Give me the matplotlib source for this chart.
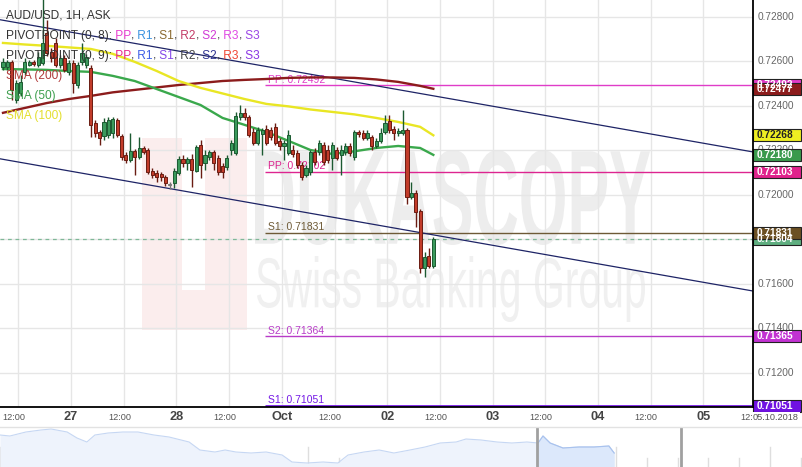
import matplotlib
matplotlib.use('Agg')
import matplotlib.pyplot as plt
from matplotlib.patches import Rectangle, PathPatch
from matplotlib.transforms import Affine2D, blended_transform_factory
from matplotlib.textpath import TextPath
from matplotlib.font_manager import FontProperties

FONT = 'Liberation Sans'
plt.rcParams['font.family'] = [FONT, 'DejaVu Sans']

# AUD/USD 1H candles
opens = [0.72575, 0.72575, 0.72598, 0.72427, 0.72458, 0.72553, 0.72584, 0.72598, 0.72584, 0.72593,
         0.72728, 0.72643, 0.72683, 0.72584, 0.72616, 0.72553, 0.72593, 0.72494, 0.72598, 0.72584,
         0.72571, 0.72324, 0.72283, 0.72265, 0.72270, 0.72279, 0.72337, 0.72265, 0.72180, 0.72157,
         0.72198, 0.72171, 0.72211, 0.72202, 0.72108, 0.72099, 0.72094, 0.72081, 0.72045, 0.72054,
         0.72099, 0.72162, 0.72144, 0.72162, 0.72108, 0.72225, 0.72144, 0.72171, 0.72193, 0.72166,
         0.72130, 0.72126, 0.72202, 0.72189, 0.72351, 0.72369, 0.72351, 0.72283, 0.72234, 0.72274,
         0.72297, 0.72292, 0.72306, 0.72243, 0.72220, 0.72189, 0.72202, 0.72189, 0.72135, 0.72090,
         0.72103, 0.72193, 0.72193, 0.72225, 0.72202, 0.72166, 0.72202, 0.72180, 0.72193, 0.72220,
         0.72171, 0.72283, 0.72279, 0.72256, 0.72261, 0.72220, 0.72243, 0.72283, 0.72333, 0.72297,
         0.72279, 0.72279, 0.72292, 0.71991, 0.72009, 0.71928, 0.71672, 0.71726, 0.71681]
highs = [0.72616, 0.72607, 0.72607, 0.72517, 0.72539, 0.72616, 0.72607, 0.72607, 0.72643, 0.72880,
         0.72787, 0.72661, 0.72706, 0.72629, 0.72629, 0.72607, 0.72607, 0.72598, 0.72683, 0.72634,
         0.72584, 0.72337, 0.72292, 0.72346, 0.72351, 0.72351, 0.72346, 0.72274, 0.72193, 0.72279,
         0.72207, 0.72261, 0.72220, 0.72211, 0.72121, 0.72112, 0.72103, 0.72090, 0.72058, 0.72121,
         0.72175, 0.72180, 0.72171, 0.72184, 0.72225, 0.72247, 0.72202, 0.72202, 0.72202, 0.72180,
         0.72144, 0.72180, 0.72247, 0.72373, 0.72404, 0.72391, 0.72360, 0.72301, 0.72306, 0.72301,
         0.72315, 0.72306, 0.72324, 0.72256, 0.72247, 0.72292, 0.72225, 0.72202, 0.72148, 0.72135,
         0.72202, 0.72211, 0.72247, 0.72238, 0.72225, 0.72238, 0.72216, 0.72225, 0.72234, 0.72234,
         0.72292, 0.72292, 0.72292, 0.72292, 0.72270, 0.72256, 0.72301, 0.72360, 0.72360, 0.72310,
         0.72301, 0.72382, 0.72301, 0.72058, 0.72022, 0.71937, 0.71744, 0.71762, 0.71811]
lows = [0.72562, 0.72562, 0.72427, 0.72413, 0.72445, 0.72539, 0.72580, 0.72580, 0.72575, 0.72584,
        0.72625, 0.72598, 0.72575, 0.72571, 0.72553, 0.72539, 0.72458, 0.72481, 0.72584, 0.72571,
        0.72261, 0.72261, 0.72225, 0.72247, 0.72256, 0.72256, 0.72261, 0.72157, 0.72144, 0.72148,
        0.72090, 0.72162, 0.72184, 0.72094, 0.72076, 0.72058, 0.72063, 0.72040, 0.72027, 0.72031,
        0.72090, 0.72126, 0.72112, 0.72036, 0.72103, 0.72076, 0.72112, 0.72157, 0.72112, 0.72090,
        0.72076, 0.72112, 0.72180, 0.72180, 0.72337, 0.72337, 0.72261, 0.72225, 0.72225, 0.72180,
        0.72225, 0.72247, 0.72225, 0.72202, 0.72157, 0.72180, 0.72171, 0.72121, 0.72067, 0.72081,
        0.72090, 0.72135, 0.72180, 0.72135, 0.72144, 0.72112, 0.72157, 0.72090, 0.72180, 0.72175,
        0.72157, 0.72261, 0.72247, 0.72247, 0.72202, 0.72211, 0.72234, 0.72274, 0.72279, 0.72247,
        0.72265, 0.72270, 0.71960, 0.71982, 0.71856, 0.71649, 0.71631, 0.71672, 0.71672]
closes = [0.72598, 0.72598, 0.72472, 0.72503, 0.72508, 0.72598, 0.72598, 0.72589, 0.72620, 0.72683,
          0.72638, 0.72616, 0.72584, 0.72616, 0.72562, 0.72593, 0.72503, 0.72584, 0.72638, 0.72620,
          0.72315, 0.72279, 0.72256, 0.72328, 0.72337, 0.72342, 0.72270, 0.72171, 0.72157, 0.72198,
          0.72171, 0.72211, 0.72193, 0.72103, 0.72090, 0.72081, 0.72081, 0.72054, 0.72045, 0.72108,
          0.72162, 0.72144, 0.72162, 0.72112, 0.72216, 0.72135, 0.72180, 0.72193, 0.72144, 0.72103,
          0.72103, 0.72166, 0.72234, 0.72355, 0.72369, 0.72351, 0.72270, 0.72234, 0.72292, 0.72292,
          0.72234, 0.72261, 0.72234, 0.72220, 0.72234, 0.72270, 0.72184, 0.72135, 0.72081, 0.72121,
          0.72193, 0.72148, 0.72234, 0.72148, 0.72157, 0.72225, 0.72166, 0.72202, 0.72220, 0.72189,
          0.72283, 0.72274, 0.72256, 0.72279, 0.72220, 0.72243, 0.72279, 0.72324, 0.72292, 0.72279,
          0.72288, 0.72292, 0.71991, 0.72009, 0.71924, 0.71672, 0.71721, 0.71681, 0.71804]

# moving averages, sampled every 5 candles
sma_idx = [0, 5, 10, 15, 20, 25, 30, 35, 40, 45, 50, 55, 60, 65, 70, 75, 80, 85, 90, 95, 98]
sma200 = [0.72369, 0.72391, 0.72413, 0.72431, 0.72445, 0.72461, 0.72472, 0.72483, 0.72494, 0.72503,
          0.72512, 0.72517, 0.72521, 0.72526, 0.72528, 0.72528, 0.72526, 0.72519, 0.72508, 0.72490, 0.72477]
sma100 = [0.72683, 0.72676, 0.72670, 0.72663, 0.72656, 0.72634, 0.72598, 0.72557, 0.72512, 0.72481,
          0.72456, 0.72431, 0.72409, 0.72398, 0.72384, 0.72373, 0.72362, 0.72346, 0.72328, 0.72306, 0.72268]
sma50 = [0.72566, 0.72564, 0.72562, 0.72557, 0.72553, 0.72535, 0.72512, 0.72476, 0.72440, 0.72404,
         0.72346, 0.72315, 0.72283, 0.72243, 0.72202, 0.72184, 0.72196, 0.72211, 0.72220, 0.72211, 0.72180]

# trend channel (two anchor points each)
chan_x = [0, 170]
chan_upper = [0.72785, 0.72196]
chan_lower = [0.72160, 0.71571]

# pivot levels: (label, level, colour)
pivot_start = 59.7
pivots = [('PP: 0.72492', 0.72492, '#e03cc8'),
          ('PP: 0.72102', 0.72103, '#dd2590'),
          ('S1: 0.71831', 0.71831, '#6e5a36'),
          ('S2: 0.71364', 0.71364, '#b83cc8'),
          ('S1: 0.71051', 0.71051, '#7418e6')]
last_price = 0.71804

# right axis
price_ticks = [0.712, 0.714, 0.716, 0.718, 0.720, 0.722, 0.724, 0.726, 0.728]
badges = [('0.72492', 0.72492, '#e03cc8', 'white'),
          ('0.72477', 0.72477, '#8c1c1c', 'white'),
          ('0.72268', 0.72268, '#eeee22', '#222222'),
          ('0.72180', 0.72180, '#3a9a4c', 'white'),
          ('0.72103', 0.72103, '#e0238c', 'white'),
          ('0.71804', 0.71804, '#5fae80', 'white'),
          ('0.71831', 0.71831, '#6b4f22', 'white'),
          ('0.71365', 0.71365, '#c232d2', 'white'),
          ('0.71051', 0.71051, '#7012e2', 'white')]

# time axis
xtick_pos = [3.5 + 12 * k for k in range(15)]
xtick_lab = ['12:00', '27', '12:00', '28', '12:00', 'Oct', '12:00', '02', '12:00', '03',
             '12:00', '04', '12:00', '05', '12:00']

# navigator (days, price)
nav_x = [0, 0.32, 0.84, 1.33, 1.66, 2.18, 2.5, 2.82, 3.08, 3.51, 3.99, 4.48, 5.0, 5.49, 6.14, 6.49,
         6.98, 7.31, 7.66, 8.15, 8.64, 9.16, 9.48, 9.97, 10.49, 10.97, 11.3, 11.82, 12.31, 12.79,
         13.31, 13.8, 14.29, 14.81, 15.13, 15.62, 16.14, 16.62, 17.11, 17.47, 17.63, 17.86, 18.28,
         18.8, 19.29, 19.77, 19.94]
nav_vals = [0.7322, 0.7316, 0.7340, 0.7352, 0.7358, 0.7340, 0.7304, 0.7280, 0.7322, 0.7334,
            0.7340, 0.7340, 0.7322, 0.7310, 0.7280, 0.7232, 0.7220, 0.7232, 0.7220, 0.7214,
            0.7220, 0.7202, 0.7160, 0.7154, 0.7160, 0.7154, 0.7202, 0.7220, 0.7232, 0.7214,
            0.7232, 0.7250, 0.7274, 0.7280, 0.7298, 0.7292, 0.7280, 0.7274, 0.7280, 0.7274,
            0.7316, 0.7274, 0.7244, 0.7250, 0.7250, 0.7256, 0.7214]
nav_window = (17.45, 22.1)

# ---------------------------------------------------------------
W, H = 803, 467
fig = plt.figure(figsize=(W / 100, H / 100), dpi=100)
pix = Affine2D().scale(1 / W, -1 / H).translate(0, 1) + fig.transFigure

ax = fig.add_axes([0, 60 / H, 753 / W, 407 / H])
ax.set_xlim(-0.68, 170.8)
ax.set_ylim(0.71047, 0.72876)
ax.set_yticks(price_ticks)
ax.set_xticks(xtick_pos[:14])
ax.grid(True, color='#e6e6e6', lw=1)
ax.set_axisbelow(True)
ax.tick_params(length=0, labelleft=False, labelbottom=False)
for s in ['top', 'left']:
    ax.spines[s].set_visible(False)
for s in ['right', 'bottom']:
    ax.spines[s].set_color('black')
    ax.spines[s].set_linewidth(1.3)
    ax.spines[s].set_zorder(6)

# watermark
def watermark(s, box, weight, color):
    tp = TextPath((0, 0), s, size=100, prop=FontProperties(family=FONT, weight=weight))
    bb = tp.get_extents()
    x0, y0, x1, y1 = box
    tr = Affine2D().translate(-bb.x0, -bb.y0).scale((x1 - x0) / bb.width, -(y1 - y0) / bb.height) \
        .translate(x0, y1) + pix
    ax.add_artist(PathPatch(tp, transform=tr, fc=color, ec='none', zorder=0.2))

logo = '#fbeded'
for rx, ry, rw, rh in [(142, 138, 40, 192), (205, 138, 42, 192), (182, 290, 23, 40)]:
    ax.add_artist(Rectangle((rx, ry), rw, rh, transform=pix, fc=logo, ec='none', zorder=0.2))
watermark('DUKASCOPY', (255, 150, 650, 245), 'bold', '#ededed')
watermark('Swiss Banking Group', (257, 256, 645, 322), 'normal', '#f0f0f0')

# pivot lines and labels
ylab = blended_transform_factory(pix, ax.transData)
for lab, lvl, col in pivots:
    ax.hlines(lvl, pivot_start, 171, color=col, lw=2 if lvl < 0.711 else 1, zorder=1.5)
    ax.text(268, lvl + 0.00003, lab, transform=ylab, color=col, fontsize=7.5,
            va='bottom', ha='left', zorder=1.6)
ax.axhline(last_price, color='#7fb898', lw=0.9, ls=(0, (3, 3)), zorder=1.5)

# channel
ax.axline((chan_x[0], chan_upper[0]), (chan_x[1], chan_upper[1]), color='#1e2466', lw=0.9, zorder=2)
ax.axline((chan_x[0], chan_lower[0]), (chan_x[1], chan_lower[1]), color='#1e2466', lw=0.9, zorder=2)

# moving averages
ax.plot(sma_idx, sma200, color='#8c1c1c', lw=1.7, zorder=2.5)
ax.plot(sma_idx, sma100, color='#e9e624', lw=1.7, zorder=2.5)
ax.plot(sma_idx, sma50, color='#3aa84c', lw=1.7, zorder=2.5)

# candles
for i, (o, h, l, c) in enumerate(zip(opens, highs, lows, closes)):
    if c > o:
        fc, ec = '#3b9a5c', '#1c5a31'
    elif c < o:
        fc, ec = '#c23c2a', '#6a1c12'
    else:
        fc, ec = '#8a8a8a', '#777777'
    ax.vlines(i, l, h, color=ec, lw=1, zorder=3)
    bot = min(o, c)
    ht = max(abs(c - o), 0.00003)
    ax.add_patch(Rectangle((i - 0.35, bot), 0.7, ht, fc=fc, ec=ec, lw=0.7, zorder=3.1))

# right price scale
for p in price_ticks:
    ax.text(758, p, f'{p:.5f}', transform=ylab, fontsize=7.3, color='#666666',
            va='center', ha='left', zorder=4, clip_on=False)
clip = Rectangle((0, 0), W, 407, transform=pix)
for txt, p, fc, tc in badges:
    r = Rectangle((753, p - 0.00027), 48, 0.00054, transform=ylab, fc=fc, ec='#222222',
                  lw=0.8, zorder=5, clip_on=False)
    ax.add_artist(r)
    r.set_clip_path(clip)
    t = ax.text(757, p, txt, transform=ylab, fontsize=7.3, color=tc, fontweight='bold',
                va='center', ha='left', zorder=5.1, clip_on=False)
    t.set_clip_path(clip)

# time labels
xlab = blended_transform_factory(ax.transData, pix)
for xp, lab in zip(xtick_pos, xtick_lab):
    if lab == '12:00':
        ax.text(xp - 1.0, 417, lab, transform=xlab, fontsize=6.6, color='#555555',
                ha='center', va='center', clip_on=False)
    else:
        ax.text(xp, 417, lab, transform=xlab, fontsize=9.2, color='#444444', fontweight='bold',
                ha='center', va='center', clip_on=False)
fig.text(799, 417, '05.10.2018', transform=pix, fontsize=6.6, color='#555555', ha='right',
         va='center', bbox=dict(boxstyle='square,pad=0.1', fc='white', ec='none'))

# legend in the corner
def write_parts(x, y, parts, size=8.6):
    rend = fig.canvas.get_renderer()
    for s, c in parts:
        t = fig.text(x, y, s, transform=pix, color=c, fontsize=size, va='center', ha='left', zorder=7)
        x += t.get_window_extent(renderer=rend).width

dark = '#333333'
write_parts(6, 16, [('AUD/USD, 1H, ASK', dark)])
piv8 = [('PP', '#e83ccf'), ('R1', '#3a92e0'), ('S1', '#8a6a30'), ('R2', '#c23a66'),
        ('S2', '#d03ad6'), ('R3', '#e048e4'), ('S3', '#9a44e6')]
piv9 = [('PP', '#e8248e'), ('R1', '#3c5ee6'), ('S1', '#8446e8'), ('R2', '#444444'),
        ('S2', '#2e3290'), ('R3', '#f04434'), ('S3', '#8a34e4')]
for y, head, toks in [(36, 'PIVOTPOINT (0, 8):', piv8), (56, 'PIVOTPOINT (0, 9):', piv9)]:
    parts = [(head, dark)]
    for k, (s, c) in enumerate(toks):
        parts.append((' ' + s, c))
        if k < len(toks) - 1:
            parts.append((',', dark))
    write_parts(6, y, parts)
write_parts(6, 76, [('SMA (200)', '#b03a3a')])
write_parts(6, 96, [('SMA (50)', '#3f9f4f')])
write_parts(6, 116, [('SMA (100)', '#e3df2e')])

# navigator
fig.add_artist(plt.Line2D([0, W], [427, 427], transform=pix, color='#e2e2e2', lw=1))
nav = fig.add_axes([0, 0, 1, 40 / H])
nav.set_xlim(0, W / 30.8)
nav.set_ylim(0.7130, 0.7370)
nav.axis('off')
for d in range(27):
    nav.axvline(d, 0, 0.5 if d % 5 == 0 else 0.22, color='#dedede', lw=1, zorder=0)
nav.fill_between(nav_x, nav_vals, 0.7130, color='#eef3fc', lw=0, zorder=1)
nav.plot(nav_x, nav_vals, color='#c6d7f3', lw=0.8, zorder=2)
win = Rectangle((nav_window[0], 0.7130), nav_window[1] - nav_window[0], 0.024,
                transform=nav.transData)
sel = nav.fill_between(nav_x, nav_vals, 0.7130, color='#dce8fb', lw=0, zorder=1.5)
sel.set_clip_path(win)
ln, = nav.plot(nav_x, nav_vals, color='#a8c2ee', lw=0.8, zorder=2.5)
ln.set_clip_path(win)
for xv in nav_window:
    nav.axvline(xv, color='#a0a0a0', lw=2, zorder=3)

fig.savefig('out.png', dpi=100)
